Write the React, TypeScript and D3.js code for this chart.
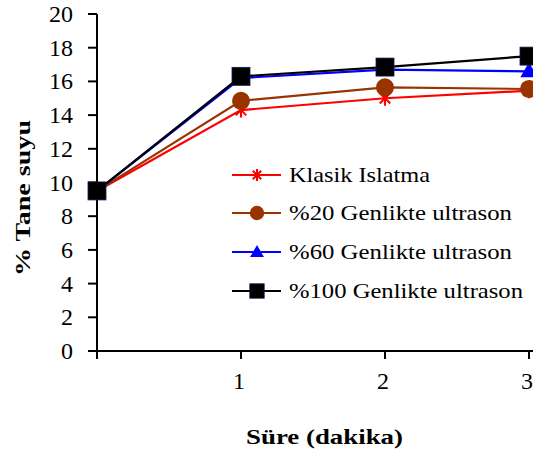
import React from "react";
import * as d3 from "d3";

const times = [0, 1, 2, 3];
const klasik = [9.5, 14.3, 15.0, 15.45];
const g20 = [9.5, 14.85, 15.65, 15.55];
const g60 = [9.5, 16.2, 16.7, 16.6];
const g100 = [9.5, 16.3, 16.85, 17.5];
const yTicks = [0, 2, 4, 6, 8, 10, 12, 14, 16, 18, 20];
const xTicks = [1, 2, 3];
const seriesNames = [
  "Klasik Islatma",
  "%20 Genlikte ultrason",
  "%60 Genlikte ultrason",
  "%100 Genlikte ultrason",
];
const legendWidths = [141, 223, 223, 234];

const W = 533;
const H = 455;
const x = d3.scaleLinear().domain([0, 3]).range([97, 529]);
const y = d3.scaleLinear().domain([0, 20]).range([351, 14]);

const series = [
  { name: seriesNames[0], values: klasik, color: "#ff0000", marker: "star" },
  { name: seriesNames[1], values: g20, color: "#993300", marker: "circle" },
  { name: seriesNames[2], values: g60, color: "#0000ff", marker: "triangle" },
  { name: seriesNames[3], values: g100, color: "#000000", marker: "square" },
];

const FONT = "Liberation Serif";

function Marker({ type, cx, cy, color, s }: { type: string; cx: number; cy: number; color: string; s: number }) {
  if (type === "circle") return <circle cx={cx} cy={cy} r={9 * s} fill={color} />;
  if (type === "square")
    return <rect x={cx - 9 * s} y={cy - 9 * s} width={18 * s} height={18 * s} fill="#000" stroke="#1a1a5a" strokeWidth={0.8} />;
  if (type === "triangle") {
    const p = d3.symbol().type(d3.symbolTriangle).size(130 * s * s)();
    return <path d={p || ""} transform={`translate(${cx},${cy + 1})`} fill={color} />;
  }
  const r = 7.5 * s;
  const lines = [0, 45, -45].map((a) => {
    const rad = (a * Math.PI) / 180;
    return (
      <line
        key={a}
        x1={cx - r * Math.sin(rad)}
        y1={cy - r * Math.cos(rad)}
        x2={cx + r * Math.sin(rad)}
        y2={cy + r * Math.cos(rad)}
        stroke={color}
        strokeWidth={2}
      />
    );
  });
  return <g>{lines}</g>;
}

export default function App() {
  const line = d3
    .line<number>()
    .x((_, i) => x(times[i]))
    .y((d) => y(d));
  const legendY = [175, 213, 252, 291];
  return (
    <svg width={W} height={H} style={{ position: "absolute", left: 0, top: 0 }}>
      <line x1={97} y1={y(20)} x2={97} y2={y(0)} stroke="#000" strokeWidth={2} />
      <line x1={88} y1={y(0)} x2={533} y2={y(0)} stroke="#000" strokeWidth={2} />
      {yTicks.map((t) => (
        <line key={"yt" + t} x1={88} x2={97} y1={y(t)} y2={y(t)} stroke="#000" strokeWidth={2} />
      ))}
      {yTicks.map((t) => (
        <text key={"yl" + t} x={73} y={y(t) + 8} textAnchor="end" fontSize={24} style={{ fontFamily: FONT }}>
          {t}
        </text>
      ))}
      <line x1={97} x2={97} y1={y(0)} y2={y(0) + 8} stroke="#000" strokeWidth={2} />
      {xTicks.map((t) => (
        <line key={"xt" + t} x1={x(t)} x2={x(t)} y1={y(0)} y2={y(0) + 8} stroke="#000" strokeWidth={2} />
      ))}
      {xTicks.map((t) => (
        <text key={"xl" + t} x={x(t) - 2} y={389} textAnchor="middle" fontSize={24} style={{ fontFamily: FONT }}>
          {t}
        </text>
      ))}
      <text x={246} y={444} fontSize={22} fontWeight="bold" textLength={157} lengthAdjust="spacingAndGlyphs" style={{ fontFamily: FONT }}>
        Süre (dakika)
      </text>
      <text transform={`translate(30,276) rotate(-90)`} fontSize={22} fontWeight="bold" textLength={156} lengthAdjust="spacingAndGlyphs" style={{ fontFamily: FONT }}>
        % Tane suyu
      </text>
      {series.map((s) => (
        <g key={s.name}>
          <path d={line(s.values) || ""} fill="none" stroke={s.color} strokeWidth={2.2} />
          {s.values.map((v, i) => (
            <Marker key={i} type={s.marker} cx={x(times[i])} cy={y(v)} color={s.color} s={1} />
          ))}
        </g>
      ))}
      {series.map((s, i) => (
        <g key={s.name}>
          <line x1={232} x2={281} y1={legendY[i]} y2={legendY[i]} stroke={s.color} strokeWidth={2.2} />
          <Marker type={s.marker} cx={257} cy={legendY[i]} color={s.color} s={0.8} />
        </g>
      ))}
      {series.map((s, i) => (
        <text key={"lg" + i} x={289} y={legendY[i] + 7} fontSize={21} textLength={legendWidths[i]} lengthAdjust="spacingAndGlyphs" style={{ fontFamily: FONT }}>
          {s.name}
        </text>
      ))}
    </svg>
  );
}
